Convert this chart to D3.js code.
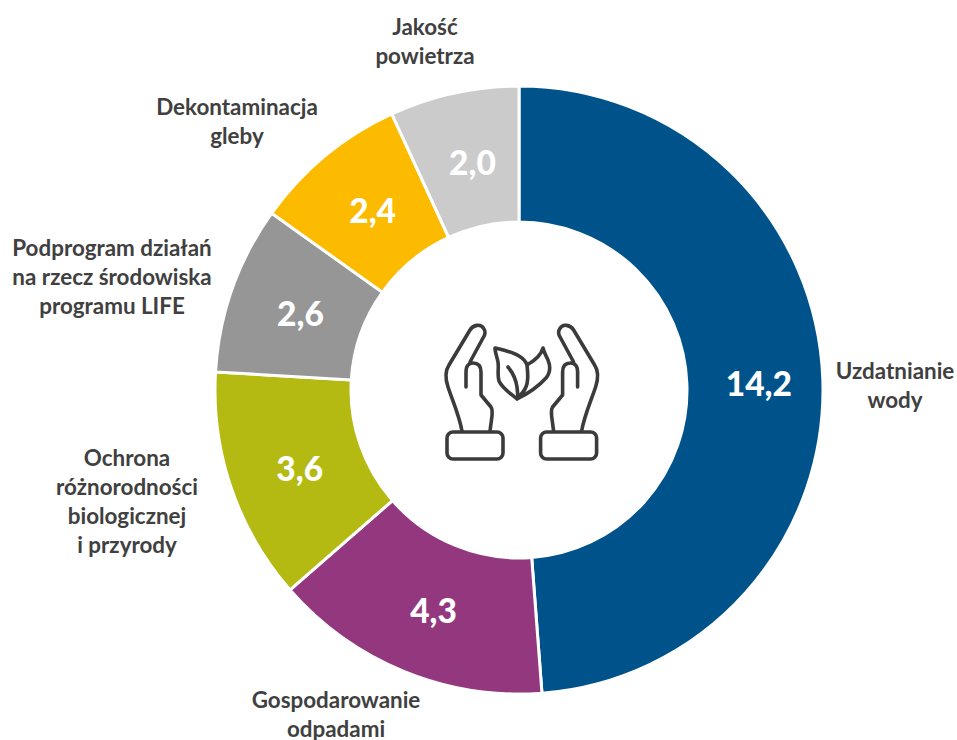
<!DOCTYPE html>
<html><head><meta charset="utf-8"><script src="https://cdn.jsdelivr.net/npm/d3@7"></script>
<style>html,body{margin:0;background:#fff}svg{display:block}text{font-family:Lato,"Open Sans",sans-serif;font-weight:700}</style></head>
<body><svg width="957" height="740"></svg>
<script>
const categories=["Uzdatnianie wody","Gospodarowanie odpadami","Ochrona różnorodności biologicznej i przyrody","Podprogram działań na rzecz środowiska programu LIFE","Dekontaminacja gleby","Jakość powietrza"];
const values=[14.2,4.3,3.6,2.6,2.4,2.0];
const valueLabels=["14,2","4,3","3,6","2,6","2,4","2,0"];
const colors=["#00538a","#93387f","#b5ba12","#969696","#fdbb00","#cbcbcb"];
const nameLines=[["Uzdatnianie","wody"],["Gospodarowanie","odpadami"],["Ochrona","różnorodności","biologicznej","i przyrody"],["Podprogram działań","na rzecz środowiska","programu LIFE"],["Dekontaminacja","gleby"],["Jakość","powietrza"]];

const namePos=[[895,386],[336,715],[127,502],[112,278],[237,122],[425,42]];
const cx=519,cy=390,R=304,r=168;
const svg=d3.select("svg");
const g=svg.append("g").attr("transform",`translate(${cx},${cy})`);
const arcs=d3.pie().sort(null)(values);
const arc=d3.arc().innerRadius(r).outerRadius(R);
const labelArc=d3.arc().innerRadius((r+R)/2).outerRadius((r+R)/2);
g.selectAll("path").data(arcs).join("path").attr("d",arc).attr("fill",(d,i)=>colors[i]).attr("stroke","#fff").attr("stroke-width",3);
g.selectAll("text").data(arcs).join("text").attr("transform",d=>{const c=labelArc.centroid(d);return `translate(${c[0]+4},${c[1]+3})`;}).attr("text-anchor","middle").attr("dy","0.36em").attr("fill","#fff").attr("font-size",33.5).attr("style","font-weight:900").text((d,i)=>valueLabels[i]);
nameLines.forEach((ls,i)=>{const t=svg.append("text").attr("text-anchor","middle").attr("font-size",22.4).attr("fill","#404040");
ls.forEach((l,j)=>t.append("tspan").attr("x",namePos[i][0]).attr("y",namePos[i][1]+(j-(ls.length-1)/2)*29+7).text(l));});
const ic=svg.append("g").attr("fill","none").attr("stroke","#3b3b3b").attr("stroke-width",3.6).attr("stroke-linejoin","round").attr("stroke-linecap","round");
const hand=ic.append("g").attr("id","h");
hand.append("rect").attr("x",447).attr("y",432).attr("width",56).attr("height",27).attr("rx",6);
hand.append("path").attr("d","M462 431C459 415 453 402 448 387C445 378 445 371 449 365L470 330C473 325 481 323 484 329C486 332 485 335 483 338L470 362");
hand.append("path").attr("d","M466 387V372C466 365 470 363 473 363C478 363 481 366 481 372V395L491 407C493 410 492 412 492 416L490 431");
ic.append("use").attr("href","#h").attr("transform","translate(1043.6,0) scale(-1,1)");
ic.append("path").attr("d","M517 399C510 393 502 388 499 381C497 374 499 369 498 362C497 357 495 352 495 348C503 350 513 352 519 356C524 359 526 362 527 365C528 374 529 385 523 392L517 399C527 394 538 387 546 378C551 372 550 365 548 360C546 356 544 352 543 348C541 356 534 361 527 365");
ic.append("path").attr("d","M508 367C513 373 516 380 517 387L518 397");
</script></body></html>
